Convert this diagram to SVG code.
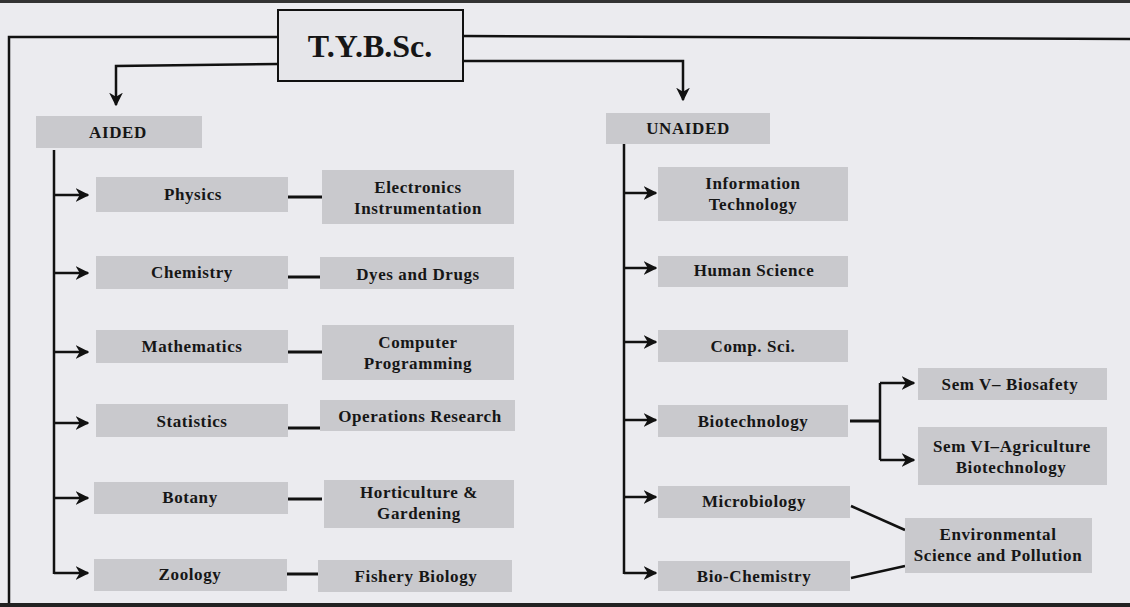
<svg xmlns="http://www.w3.org/2000/svg" width="1130" height="607" viewBox="0 0 1130 607">
<style>
.bg{fill:#ebebef}
.box{fill:#c9c9cd}
.t{font-family:"Liberation Serif","Times New Roman",serif;font-weight:bold;font-size:17px;letter-spacing:0.6px;fill:#161616;text-anchor:middle}
.ln{stroke:#111;stroke-width:2.5;fill:none}
.th{stroke:#111;stroke-width:3;fill:none}
</style>
<defs>
<marker id="ah" viewBox="0 0 10 10" refX="9" refY="5" markerWidth="5.5" markerHeight="5.5" orient="auto" markerUnits="strokeWidth">
<path d="M0,0 L10,5 L0,10 L3,5 Z" fill="#111"/>
</marker>
</defs>
<rect class="bg" x="0" y="0" width="1130" height="607"/>
<rect x="0" y="0" width="1130" height="3" fill="#333"/>
<rect x="0" y="603" width="1130" height="4" fill="#222"/>
<g id="frame" class="ln">
<polyline points="278,37 9,37 9,603"/>
<line x1="463" y1="36" x2="1130" y2="39"/>
</g>
<g id="connectors">
<polyline class="ln" points="278,64 116,66 116,105" marker-end="url(#ah)"/>
<polyline class="ln" points="463,61 683,61 683,100" marker-end="url(#ah)"/>
<line class="ln" x1="54" y1="150" x2="54" y2="574"/>
<line class="ln" x1="54" y1="195" x2="88" y2="195" marker-end="url(#ah)"/>
<line class="ln" x1="54" y1="273" x2="88" y2="273" marker-end="url(#ah)"/>
<line class="ln" x1="54" y1="352" x2="88" y2="352" marker-end="url(#ah)"/>
<line class="ln" x1="54" y1="423" x2="88" y2="423" marker-end="url(#ah)"/>
<line class="ln" x1="54" y1="498" x2="88" y2="498" marker-end="url(#ah)"/>
<polyline class="ln" points="54,573 88,573" marker-end="url(#ah)"/>
<line class="th" x1="288" y1="197" x2="322" y2="197"/>
<line class="th" x1="288" y1="277" x2="320" y2="277"/>
<line class="th" x1="288" y1="352" x2="322" y2="352"/>
<line class="th" x1="288" y1="428" x2="320" y2="428"/>
<line class="th" x1="288" y1="499" x2="322" y2="499"/>
<line class="th" x1="287" y1="574" x2="318" y2="574"/>
<line class="ln" x1="624" y1="143" x2="624" y2="574"/>
<line class="ln" x1="624" y1="193" x2="656" y2="193" marker-end="url(#ah)"/>
<line class="ln" x1="624" y1="268" x2="656" y2="268" marker-end="url(#ah)"/>
<line class="ln" x1="624" y1="342" x2="656" y2="342" marker-end="url(#ah)"/>
<line class="ln" x1="624" y1="420" x2="656" y2="420" marker-end="url(#ah)"/>
<line class="ln" x1="624" y1="497" x2="656" y2="497" marker-end="url(#ah)"/>
<line class="ln" x1="624" y1="573" x2="656" y2="573" marker-end="url(#ah)"/>
<line class="th" x1="850" y1="421" x2="880" y2="421"/>
<polyline class="ln" points="880,383 880,460"/>
<line class="ln" x1="880" y1="383" x2="914" y2="383" marker-end="url(#ah)"/>
<line class="ln" x1="880" y1="460" x2="914" y2="460" marker-end="url(#ah)"/>
<line class="ln" x1="851" y1="506" x2="905" y2="530"/>
<line class="ln" x1="851" y1="578" x2="905" y2="566"/>
</g>
<g id="n-tybsc">
<rect x="278" y="10" width="185" height="71" fill="#e6e6ea" stroke="#111" stroke-width="2"/>
<text x="370" y="57" class="t" style="font-size:32px;letter-spacing:0">T.Y.B.Sc.</text>
</g>
<g id="n-aided"><rect class="box" x="36" y="116" width="166" height="32"/><text class="t" x="118" y="138">AIDED</text></g>
<g id="n-unaided"><rect class="box" x="606" y="113" width="164" height="31"/><text class="t" x="688" y="134">UNAIDED</text></g>
<g id="n-physics"><rect class="box" x="96" y="177" width="192" height="35"/><text class="t" x="193" y="200">Physics</text></g>
<g id="n-chemistry"><rect class="box" x="96" y="256" width="192" height="33"/><text class="t" x="192" y="278">Chemistry</text></g>
<g id="n-mathematics"><rect class="box" x="96" y="330" width="192" height="33"/><text class="t" x="192" y="352">Mathematics</text></g>
<g id="n-statistics"><rect class="box" x="96" y="404" width="192" height="33"/><text class="t" x="192" y="427">Statistics</text></g>
<g id="n-botany"><rect class="box" x="94" y="482" width="194" height="32"/><text class="t" x="190" y="503">Botany</text></g>
<g id="n-zoology"><rect class="box" x="94" y="559" width="193" height="32"/><text class="t" x="190" y="580">Zoology</text></g>
<g id="n-electronics"><rect class="box" x="322" y="170" width="192" height="54"/><text class="t" x="418" y="193">Electronics</text><text class="t" x="418" y="214">Instrumentation</text></g>
<g id="n-dyes"><rect class="box" x="320" y="257" width="194" height="32"/><text class="t" x="418" y="280">Dyes and Drugs</text></g>
<g id="n-comp-prog"><rect class="box" x="322" y="325" width="192" height="55"/><text class="t" x="418" y="348">Computer</text><text class="t" x="418" y="369">Programming</text></g>
<g id="n-operations"><rect class="box" x="320" y="400" width="195" height="31"/><text class="t" x="420" y="422">Operations Research</text></g>
<g id="n-horticulture"><rect class="box" x="324" y="480" width="190" height="48"/><text class="t" x="419" y="498">Horticulture &amp;</text><text class="t" x="419" y="519">Gardening</text></g>
<g id="n-fishery"><rect class="box" x="318" y="560" width="194" height="32"/><text class="t" x="416" y="582">Fishery Biology</text></g>
<g id="n-it"><rect class="box" x="658" y="167" width="190" height="54"/><text class="t" x="753" y="189">Information</text><text class="t" x="753" y="210">Technology</text></g>
<g id="n-human"><rect class="box" x="658" y="256" width="190" height="31"/><text class="t" x="754" y="276">Human Science</text></g>
<g id="n-compsci"><rect class="box" x="658" y="330" width="190" height="32"/><text class="t" x="753" y="352">Comp. Sci.</text></g>
<g id="n-biotech"><rect class="box" x="658" y="405" width="190" height="32"/><text class="t" x="753" y="427">Biotechnology</text></g>
<g id="n-micro"><rect class="box" x="658" y="486" width="192" height="32"/><text class="t" x="754" y="507">Microbiology</text></g>
<g id="n-biochem"><rect class="box" x="658" y="561" width="192" height="30"/><text class="t" x="754" y="582">Bio-Chemistry</text></g>
<g id="n-semv"><rect class="box" x="918" y="368" width="189" height="32"/><text class="t" x="1010" y="390">Sem V– Biosafety</text></g>
<g id="n-semvi"><rect class="box" x="918" y="427" width="189" height="58"/><text class="t" x="1012" y="452">Sem VI–Agriculture</text><text class="t" x="1011" y="473">Biotechnology</text></g>
<g id="n-env"><rect class="box" x="905" y="518" width="187" height="55"/><text class="t" x="998" y="540">Environmental</text><text class="t" x="998" y="561">Science and Pollution</text></g>
</svg>
